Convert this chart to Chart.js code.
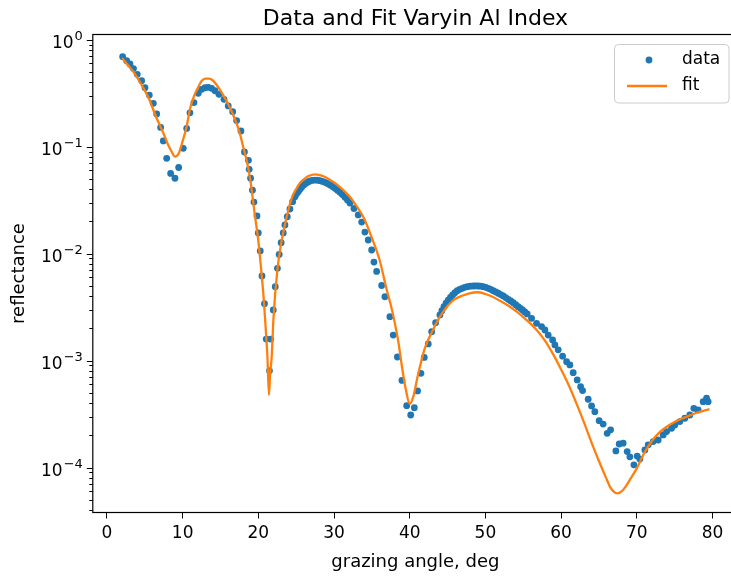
<!DOCTYPE html>
<html>
<head>
<meta charset="utf-8">
<script src="https://cdn.jsdelivr.net/npm/chart.js@4/dist/chart.umd.min.js"></script>
<style>
  html, body { margin: 0; padding: 0; background: #fff; overflow: hidden; }
  #wrap { width: 731px; height: 576px; overflow: hidden; }
</style>
</head>
<body>
<div id="wrap"><canvas id="reflChart" width="745" height="576"></canvas></div>
<script>
// measured reflectance vs grazing angle
const dataAngle = [
  2.07, 2.60, 3.04, 3.50, 4.00, 4.58, 5.02, 5.59, 6.12, 6.57,
  7.09, 7.44, 7.89, 8.41, 8.98, 9.47, 10.08, 10.53, 10.96, 11.49,
  12.06, 12.51, 12.95, 13.38, 13.83, 14.27, 14.80, 15.46, 16.02, 16.61,
  17.13, 17.70, 18.16, 18.69, 18.79, 18.97, 19.22, 19.42, 19.82, 19.99,
  20.25, 20.48, 20.81, 21.04, 21.47, 21.64, 21.97, 22.23, 22.52, 22.75,
  23.01, 23.29, 23.51, 23.82, 24.17, 24.53, 24.84, 25.05, 25.27, 25.50,
  25.72, 26.00, 26.29, 26.55, 26.82, 27.15, 27.48, 27.80, 28.14, 28.47,
  28.80, 29.13, 29.46, 29.80, 30.12, 30.45, 30.78, 31.10, 31.44, 31.77,
  32.10, 32.63, 33.20, 33.65, 34.08, 34.52, 34.97, 35.27, 35.63, 36.29,
  36.72, 37.38, 37.82, 38.37, 38.97, 39.60, 40.13, 40.61, 41.04, 41.48,
  41.92, 42.45, 42.90, 43.42, 43.99, 44.25, 44.52, 44.80, 45.09, 45.38,
  45.67, 45.97, 46.28, 46.60, 46.94, 47.27, 47.60, 48.00, 48.39, 48.72,
  49.05, 49.38, 49.71, 50.04, 50.37, 50.70, 51.03, 51.36, 51.69, 52.02,
  52.35, 52.68, 53.01, 53.34, 53.67, 54.00, 54.33, 54.62, 54.91, 55.20,
  55.52, 56.10, 56.76, 57.42, 57.86, 58.30, 58.88, 59.18, 59.62, 60.20,
  60.73, 61.16, 61.60, 62.13, 62.58, 62.84, 63.58, 64.03, 64.46, 65.03,
  65.56, 66.09, 66.54, 67.24, 67.68, 68.20, 68.73, 69.09, 69.62, 70.05,
  70.41, 71.07, 71.51, 72.17, 72.83, 73.49, 73.94, 74.60, 75.03, 75.69,
  76.35, 77.01, 77.54, 78.11, 78.77, 79.22, 79.43
];
const dataRefl = [
  0.692, 0.635, 0.592, 0.537, 0.474, 0.413, 0.355, 0.303, 0.254, 0.202,
  0.151, 0.113, 0.0778, 0.0562, 0.0506, 0.0638, 0.0964, 0.148, 0.207, 0.258,
  0.315, 0.343, 0.355, 0.358, 0.351, 0.333, 0.308, 0.277, 0.240, 0.212,
  0.175, 0.140, 0.0891, 0.0745, 0.0614, 0.0506, 0.0391, 0.0303, 0.0225, 0.0156,
  0.0106, 0.00618, 0.00340, 0.00159, 0.000805, 0.00159, 0.00297, 0.00491, 0.00729, 0.00982,
  0.01265, 0.0156, 0.0185, 0.0221, 0.0261, 0.0306, 0.0340, 0.0362, 0.0379, 0.0400,
  0.0417, 0.0438, 0.0454, 0.0468, 0.0477, 0.0484, 0.0487, 0.0486, 0.0480, 0.0473,
  0.0464, 0.0452, 0.0438, 0.0424, 0.0408, 0.0391, 0.0374, 0.0356, 0.0336, 0.0317,
  0.0297, 0.0264, 0.0230, 0.0197, 0.0159, 0.0134, 0.0108, 0.00834, 0.00681, 0.00503,
  0.00395, 0.00257, 0.00173, 0.00108, 0.000652, 0.000379, 0.000310, 0.000363, 0.000520, 0.000760,
  0.00107, 0.00143, 0.00186, 0.00226, 0.00267, 0.00293, 0.00319, 0.00344, 0.00368, 0.00390,
  0.00410, 0.00431, 0.00450, 0.00463, 0.00474, 0.00484, 0.00491, 0.00496, 0.00498, 0.00499,
  0.00498, 0.00496, 0.00491, 0.00484, 0.00474, 0.00463, 0.00450, 0.00438, 0.00426, 0.00414,
  0.00402, 0.00388, 0.00374, 0.00361, 0.00348, 0.00333, 0.00319, 0.00308, 0.00297, 0.00285,
  0.00273, 0.00248, 0.00223, 0.00208, 0.00193, 0.00173, 0.00156, 0.00140, 0.00126, 0.00110,
  0.000977, 0.000910, 0.000771, 0.000659, 0.000570, 0.000524, 0.000435, 0.000377, 0.000333, 0.000274,
  0.000255, 0.000209, 0.000225, 0.000143, 0.000166, 0.000169, 0.000141, 0.000126, 0.000106, 0.000128,
  0.000120, 0.000146, 0.000163, 0.000175, 0.000181, 0.000202, 0.000217, 0.000233, 0.000250, 0.000269,
  0.000289, 0.000310, 0.000358, 0.000345, 0.000413, 0.000445, 0.000413
];

// model curve
const fitAngle = [
  2.0, 3.0, 3.5, 4.5, 5.5, 6.5, 7.5, 8.0, 8.5, 9.0,
  9.5, 10.0, 10.5, 11.0, 11.5, 12.0, 12.5, 13.0, 13.5, 14.0,
  14.5, 15.0, 15.5, 16.0, 16.5, 17.0, 17.5, 18.0, 18.5, 19.0,
  19.5, 20.0, 20.5, 20.75, 21.0, 21.2, 21.4, 21.55, 21.76, 22.0,
  22.5, 23.0, 23.5, 24.0, 24.5, 25.0, 25.5, 26.0, 26.5, 27.0,
  27.5, 28.0, 28.5, 29.0, 30.0, 31.0, 32.0, 33.0, 34.0, 35.0,
  36.0, 37.0, 37.5, 38.0, 38.5, 39.0, 39.5, 40.0, 40.5, 41.0,
  41.5, 42.0, 43.0, 44.0, 45.0, 46.0, 47.0, 48.0, 49.0, 50.0,
  51.0, 52.0, 53.0, 54.0, 55.0, 56.0, 57.0, 58.0, 59.0, 60.0,
  61.0, 62.0, 63.0, 64.0, 65.0, 66.0, 66.5, 67.0, 67.4, 68.0,
  68.5, 69.0, 70.0, 71.0, 72.0, 73.0, 74.0, 75.0, 76.0, 77.0,
  78.0, 79.0, 79.6
];
const fitRefl = [
  0.673, 0.551, 0.500, 0.385, 0.285, 0.189, 0.131, 0.107, 0.0910, 0.0805,
  0.0871, 0.113, 0.152, 0.230, 0.297, 0.353, 0.410, 0.433, 0.433, 0.415,
  0.377, 0.334, 0.291, 0.250, 0.211, 0.173, 0.137, 0.0991, 0.0718, 0.0457,
  0.0239, 0.0131, 0.00566, 0.00345, 0.00185, 0.00108, 0.000477, 0.000734, 0.00108, 0.00250,
  0.00688, 0.0123, 0.0185, 0.0261, 0.0342, 0.0402, 0.0457, 0.0493, 0.0526, 0.0543,
  0.0551, 0.0545, 0.0531, 0.0511, 0.0462, 0.0406, 0.0345, 0.0276, 0.0211, 0.0140,
  0.0088, 0.00447, 0.00331, 0.00230, 0.00149, 0.000853, 0.000531, 0.000393, 0.000467, 0.000688,
  0.000970, 0.00131, 0.00189, 0.00257, 0.00324, 0.00377, 0.00406, 0.00428, 0.00435, 0.00419,
  0.00393, 0.00360, 0.00327, 0.00291, 0.00255, 0.00220, 0.00185, 0.00149, 0.00113, 0.000826,
  0.000591, 0.000402, 0.000267, 0.000173, 0.000115, 0.0000783, 0.0000652, 0.0000591, 0.0000573, 0.0000598,
  0.0000659, 0.0000750, 0.0000982, 0.000137, 0.000177, 0.000213, 0.000242, 0.000267, 0.000288, 0.000307,
  0.000327, 0.000342, 0.000351
];

const xTickValues = [0, 10, 20, 30, 40, 50, 60, 70, 80];
const yDecades = [-4, -3, -2, -1, 0];

const FONT = "DejaVu Sans";
const BLUE = "#1f77b4";
const ORANGE = "#ff7f0e";

function toPoints(xs, ys) {
  return xs.map((x, i) => ({ x: x, y: ys[i] }));
}

// frame, log ticks with superscript labels, and the legend box
const axesDecor = {
  id: "axesDecor",
  afterDraw(chart) {
    const { ctx, chartArea: area } = chart;
    const ys = chart.scales.y;
    ctx.save();

    // frame
    ctx.strokeStyle = "#000";
    ctx.lineWidth = 1.2;
    ctx.strokeRect(area.left, area.top, area.right - area.left, area.bottom - area.top);

    // minor y ticks
    ctx.lineWidth = 1;
    for (let e = -5; e <= 0; e++) {
      for (let k = 2; k <= 9; k++) {
        const v = k * Math.pow(10, e);
        if (v < ys.min || v > ys.max) continue;
        const py = Math.round(ys.getPixelForValue(v)) + 0.5;
        ctx.beginPath();
        ctx.moveTo(area.left - 3.5, py);
        ctx.lineTo(area.left, py);
        ctx.stroke();
      }
    }

    // major y ticks and labels
    const right = area.left - 10;
    yDecades.forEach(e => {
      const py = ys.getPixelForValue(Math.pow(10, e));
      const pr = Math.round(py) + 0.5;
      ctx.beginPath();
      ctx.moveTo(area.left - 6, pr);
      ctx.lineTo(area.left, pr);
      ctx.stroke();

      const sup = e < 0 ? "\u2212" + (-e) : String(e);
      ctx.font = "13px '" + FONT + "'";
      const wSup = ctx.measureText(sup).width;
      ctx.font = "17px '" + FONT + "'";
      const wBase = ctx.measureText("10").width;
      ctx.fillStyle = "#000";
      ctx.textBaseline = "alphabetic";
      ctx.textAlign = "left";
      const base = py + 8;
      ctx.fillText("10", right - wSup - wBase - 1, base);
      ctx.font = "13px '" + FONT + "'";
      ctx.fillText(sup, right - wSup, base - 8);
    });

    // legend
    const bx = 614, by = 44, bw = 115.5, bh = 59.5, r = 4;
    ctx.globalAlpha = 0.8;
    ctx.fillStyle = "#fff";
    ctx.beginPath();
    ctx.roundRect(bx, by, bw, bh, r);
    ctx.fill();
    ctx.globalAlpha = 1;
    ctx.strokeStyle = "#cccccc";
    ctx.lineWidth = 1;
    ctx.beginPath();
    ctx.roundRect(bx + 0.5, by + 0.5, bw - 1, bh - 1, r);
    ctx.stroke();

    ctx.fillStyle = BLUE;
    ctx.beginPath();
    ctx.arc(649, 60, 3.4, 0, Math.PI * 2);
    ctx.fill();

    ctx.strokeStyle = ORANGE;
    ctx.lineWidth = 2.3;
    ctx.beginPath();
    ctx.moveTo(627, 86);
    ctx.lineTo(667, 86);
    ctx.stroke();

    ctx.fillStyle = "#000";
    ctx.font = "17px '" + FONT + "'";
    ctx.textBaseline = "middle";
    ctx.fillText("data", 682, 60);
    ctx.fillText("fit", 682, 86);

    ctx.restore();
  }
};

new Chart(document.getElementById("reflChart"), {
  type: "scatter",
  data: {
    datasets: [
      {
        label: "fit",
        data: toPoints(fitAngle, fitRefl),
        showLine: true,
        borderColor: ORANGE,
        borderWidth: 2.3,
        pointRadius: 0,
        cubicInterpolationMode: "monotone",
        order: 0
      },
      {
        label: "data",
        data: toPoints(dataAngle, dataRefl),
        backgroundColor: BLUE,
        borderWidth: 0,
        pointRadius: 3.4,
        order: 1
      }
    ]
  },
  options: {
    responsive: false,
    animation: false,
    layout: { padding: { left: 0, right: 7, top: 0, bottom: 0 } },
    plugins: {
      legend: { display: false },
      tooltip: { enabled: false },
      title: {
        display: true,
        fullSize: false,
        text: "Data and Fit Varyin Al Index",
        color: "#000",
        font: { family: FONT, size: 22, weight: "normal", lineHeight: 1.2 },
        padding: { top: 6, bottom: 2.1 }
      }
    },
    scales: {
      x: {
        type: "linear",
        min: -1.875,
        max: 83.375,
        afterFit: s => { s.height = 63.5; },
        afterBuildTicks: s => { s.ticks = xTickValues.map(v => ({ value: v })); },
        border: { display: false },
        grid: {
          drawOnChartArea: false,
          drawTicks: true,
          tickLength: 6,
          tickColor: "#000",
          tickWidth: 1
        },
        ticks: {
          color: "#000",
          padding: 5,
          maxRotation: 0,
          font: { family: FONT, size: 17 }
        },
        title: {
          display: true,
          text: "grazing angle, deg",
          color: "#000",
          font: { family: FONT, size: 18 },
          padding: { top: 0, bottom: 3 }
        }
      },
      y: {
        type: "logarithmic",
        min: 3.8e-5,
        max: 1.117,
        afterFit: s => { s.width = 92.8; },
        border: { display: false },
        grid: { display: false },
        ticks: { display: false },
        title: {
          display: true,
          text: "reflectance",
          color: "#000",
          font: { family: FONT, size: 18 },
          padding: { top: 9, bottom: 0 }
        }
      }
    }
  },
  plugins: [axesDecor]
});
</script>
</body>
</html>
